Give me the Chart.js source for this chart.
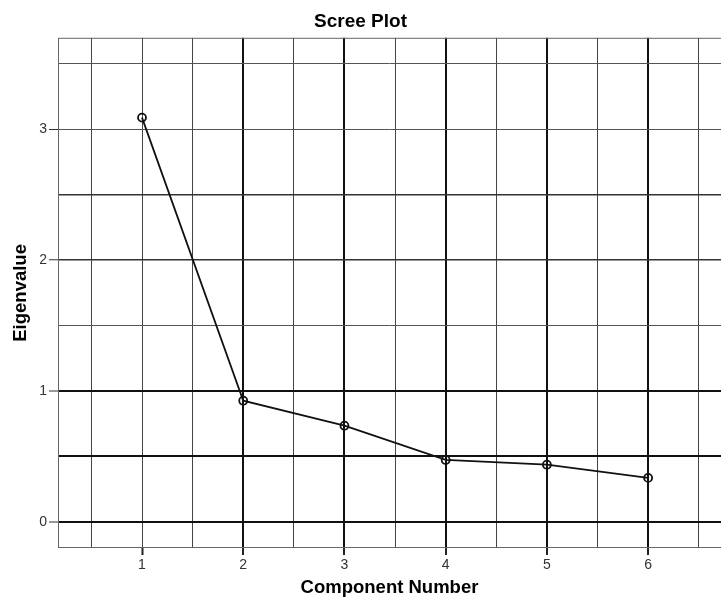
<!DOCTYPE html>
<html>
<head>
<meta charset="utf-8">
<script src="https://cdn.jsdelivr.net/npm/chart.js@4/dist/chart.umd.min.js"></script>
<style>
    body { margin: 0; background: #fff; }
    #wrap { width: 721px; height: 605px; }
</style>
</head>
<body>
<div id="wrap"><canvas id="scree" width="721" height="605"></canvas></div>
<script>
const components = [1, 2, 3, 4, 5, 6];
const eigenvalues = [3.09, 0.926, 0.735, 0.473, 0.437, 0.336];
const xTickLabels = ['1', '2', '3', '4', '5', '6'];
const yTickLabels = ['0', '1', '2', '3'];

// which grid lines SPSS drew heavier
const heavyX = [2, 3, 4, 5, 6];
const heavyY = [0, 0.5, 1];
const mediumY = [2, 2.5];

const font = 'Liberation Sans, Arial, sans-serif';

// thin frame round the plot area (top edge has no grid line)
const frame = {
    id: 'frame',
    beforeDatasetsDraw: (chart) => {
        const { ctx, chartArea: a } = chart;
        ctx.save();
        ctx.strokeStyle = '#666';
        ctx.lineWidth = 1;
        ctx.strokeRect(a.left + 0.5, a.top + 0.5, a.right - a.left + 2, a.bottom - a.top - 1);
        ctx.restore();
    }
};

const isWhole = v => Math.abs(v - Math.round(v)) < 1e-6;
const has = (list, v) => list.some(x => Math.abs(x - v) < 1e-6);

new Chart(
    document.getElementById('scree'),
    {
        type: 'line',
        plugins: [frame],
        data: {
            datasets: [
                {
                    label: 'Eigenvalue',
                    data: components.map((c, i) => ({ x: c, y: eigenvalues[i] })),
                    borderColor: '#111',
                    borderWidth: 1.8,
                    pointRadius: 4,
                    pointBorderWidth: 1.8,
                    pointBorderColor: '#111',
                    pointBackgroundColor: 'rgba(0,0,0,0)',
                    tension: 0
                }
            ]
        },
        options: {
            responsive: false,
            animation: false,
            devicePixelRatio: 1,
            layout: { autoPadding: false, padding: 0 },
            plugins: {
                legend: { display: false },
                tooltip: { enabled: false },
                title: {
                    display: true,
                    text: 'Scree Plot',
                    color: '#000',
                    font: { family: font, size: 19, weight: 'bold' },
                    padding: { top: 10, bottom: 5 }
                }
            },
            scales: {
                x: {
                    type: 'linear',
                    min: 0.17,
                    max: 6.72,
                    afterFit: (s) => { s.height = 57; },
                    border: { display: false },
                    grid: {
                        drawTicks: true,
                        tickLength: 7,
                        color: (c) => has(heavyX, c.tick.value) ? '#111' : '#444',
                        lineWidth: (c) => has(heavyX, c.tick.value) ? 2 : 1,
                        tickColor: (c) => isWhole(c.tick.value) ? '#222' : 'rgba(0,0,0,0)',
                        tickWidth: 2
                    },
                    ticks: {
                        stepSize: 0.5,
                        includeBounds: false,
                        autoSkip: false,
                        maxTicksLimit: 30,
                        maxRotation: 0,
                        padding: 2,
                        color: '#333',
                        font: { family: font, size: 14 },
                        callback: (v) => {
                            const i = components.findIndex(c => Math.abs(c - v) < 1e-6);
                            return i >= 0 ? xTickLabels[i] : '';
                        }
                    },
                    title: {
                        display: true,
                        text: 'Component Number',
                        color: '#000',
                        font: { family: font, size: 18.5, weight: 'bold' },
                        padding: { top: 0, bottom: 6 }
                    }
                },
                y: {
                    type: 'linear',
                    min: -0.2,
                    max: 3.7,
                    afterFit: (s) => { s.width = 58; },
                    border: { display: false },
                    grid: {
                        drawTicks: true,
                        tickLength: 9,
                        color: (c) => has(heavyY, c.tick.value) ? '#111' : (has(mediumY, c.tick.value) ? '#333' : '#555'),
                        lineWidth: (c) => has(heavyY, c.tick.value) ? 2 : (has(mediumY, c.tick.value) ? 1.5 : 1),
                        tickColor: (c) => isWhole(c.tick.value) ? '#333' : 'rgba(0,0,0,0)',
                        tickWidth: 1
                    },
                    ticks: {
                        stepSize: 0.5,
                        includeBounds: false,
                        autoSkip: false,
                        maxTicksLimit: 30,
                        padding: 2,
                        color: '#333',
                        font: { family: font, size: 14 },
                        callback: (v) => {
                            const i = yTickLabels.findIndex(t => Math.abs(Number(t) - v) < 1e-6);
                            return i >= 0 ? yTickLabels[i] : '';
                        }
                    },
                    title: {
                        display: true,
                        text: 'Eigenvalue',
                        color: '#000',
                        font: { family: font, size: 18.5, weight: 'bold' },
                        padding: { top: 10, bottom: 0 }
                    }
                }
            }
        }
    }
);
</script>
</body>
</html>
